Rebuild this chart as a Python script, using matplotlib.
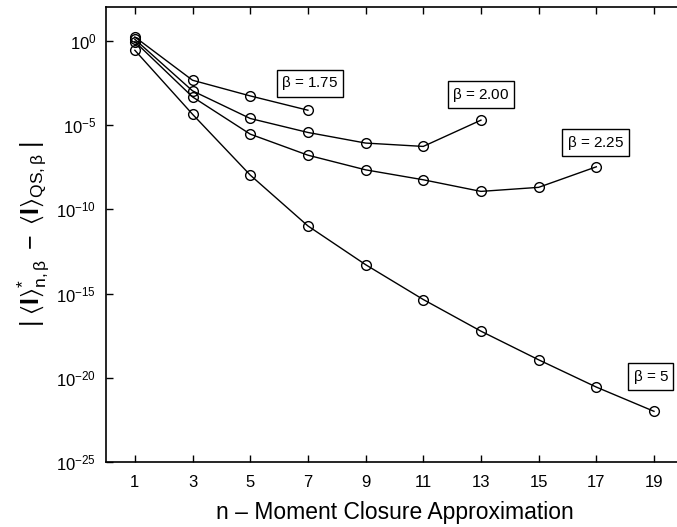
import numpy as np
import matplotlib
matplotlib.use("Agg")
import matplotlib.pyplot as plt
from matplotlib.ticker import FixedLocator

plt.rcParams['font.family'] = ['Liberation Sans', 'DejaVu Sans']
plt.rcParams['mathtext.fontset'] = 'custom'
plt.rcParams['mathtext.rm'] = 'Liberation Sans'
plt.rcParams['mathtext.it'] = 'Liberation Sans:italic'
plt.rcParams['mathtext.bf'] = 'Liberation Sans:bold'
plt.rcParams['mathtext.default'] = 'regular'

# data (log10 of the error)
n_175 = [1, 3, 5, 7]
log_175 = [0.24, -2.33, -3.26, -4.11]

n_200 = [1, 3, 5, 7, 9, 11, 13]
log_200 = [0.10, -2.96, -4.60, -5.43, -6.06, -6.26, -4.70]

n_225 = [1, 3, 5, 7, 9, 11, 13, 15, 17]
log_225 = [-0.04, -3.32, -5.53, -6.78, -7.65, -8.24, -8.93, -8.69, -7.47]

n_5 = [1, 3, 5, 7, 9, 11, 13, 15, 17, 19]
log_5 = [-0.55, -4.35, -7.96, -10.98, -13.28, -15.35, -17.23, -18.93, -20.55, -21.99]

labels = [r'$\beta$ = 1.75', r'$\beta$ = 2.00', r'$\beta$ = 2.25', r'$\beta$ = 5']
label_x = [7.07, 13.0, 16.97, 18.89]
label_logy = [-2.51, -3.19, -6.03, -19.93]

fig = plt.figure(figsize=(6.77, 5.27), dpi=100)
ax = fig.add_axes([0.1566, 0.1233, 0.852, 0.8628])

for n, lg in [(n_175, log_175), (n_200, log_200), (n_225, log_225), (n_5, log_5)]:
    ax.plot(n, 10.0 ** np.array(lg), '-o', color='black', lw=1.0,
            markersize=7, markerfacecolor='none', markeredgewidth=1.0)

for t, x, ly in zip(labels, label_x, label_logy):
    ax.text(x, 10.0 ** ly, t, ha='center', va='center', fontsize=11,
            bbox=dict(boxstyle='square,pad=0.3', fc='white', ec='black', lw=1.0))

ax.set_yscale('log')
ax.set_xlim(0, 20)
ax.set_ylim(1e-25, 1e2)
ax.set_xticks([1, 3, 5, 7, 9, 11, 13, 15, 17, 19])
ax.yaxis.set_major_locator(FixedLocator([1e-25, 1e-20, 1e-15, 1e-10, 1e-5, 1e0]))
ax.yaxis.set_minor_locator(FixedLocator([]))
ax.tick_params(direction='in', top=True, right=False, labelsize=12, length=5, width=1)
ax.tick_params(axis='x', pad=9)
ax.tick_params(axis='y', pad=7)

ax.set_xlabel('n – Moment Closure Approximation', fontsize=16.5, labelpad=8)
ax.set_ylabel(r'$|\;\langle\mathbf{I}\rangle^{*}_{n,\beta}\;-\;\langle\mathbf{I}\rangle_{QS,\beta}\;|$',
              fontsize=18, labelpad=4)

for s in ax.spines.values():
    s.set_linewidth(1.2)

fig.savefig('out.png', dpi=100)
